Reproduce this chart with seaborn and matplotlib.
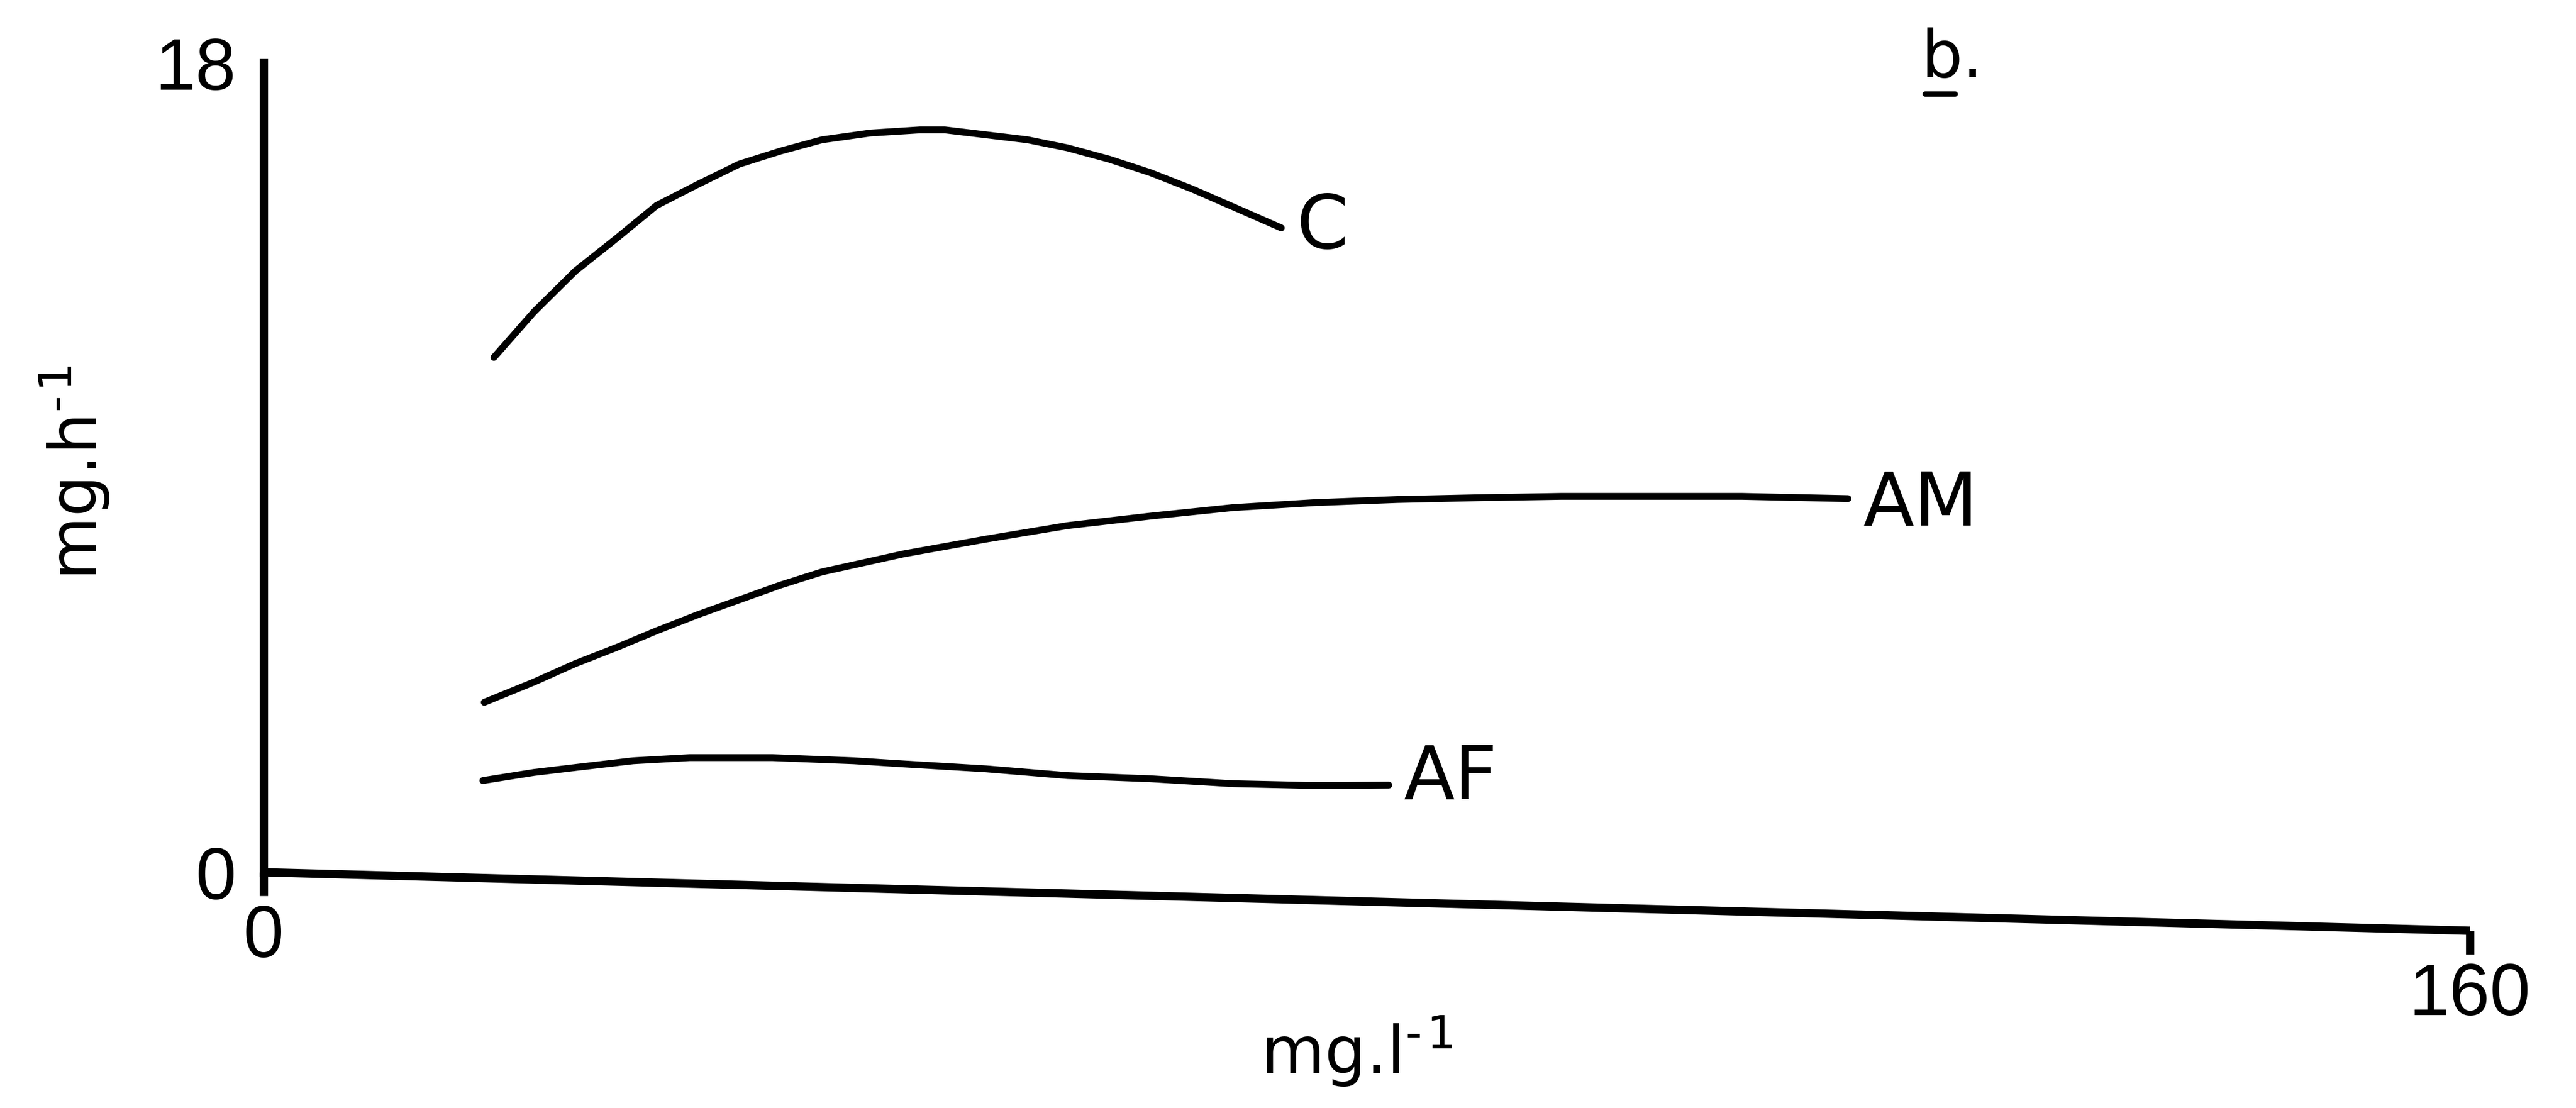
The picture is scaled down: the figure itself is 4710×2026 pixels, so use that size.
import matplotlib
matplotlib.use("Agg")
import matplotlib.pyplot as plt
import matplotlib.transforms as mtransforms
from matplotlib import font_manager
import pandas as pd
import seaborn as sns

# Uptake rate (mg.h-1) against concentration (mg.l-1) for three groups
c_x = [16.7, 19.6, 22.6, 25.6, 28.5, 31.5, 34.5, 37.5, 40.5, 44.0, 47.6,
       49.4, 52.4, 55.4, 58.3, 61.3, 64.3, 67.3, 70.3, 73.8]
c_y = [11.45, 12.46, 13.37, 14.10, 14.83, 15.30, 15.75, 16.04, 16.29, 16.44,
       16.51, 16.51, 16.40, 16.29, 16.11, 15.86, 15.56, 15.20, 14.80, 14.33]
am_x = [16.0, 19.6, 22.6, 25.6, 28.5, 31.5, 34.5, 37.5, 40.5, 46.4, 52.4,
        58.3, 64.3, 70.3, 76.2, 82.2, 88.1, 94.1, 100.0, 107.2, 114.9]
am_y = [3.78, 4.23, 4.64, 5.00, 5.37, 5.73, 6.06, 6.39, 6.68, 7.08, 7.41,
        7.71, 7.92, 8.11, 8.22, 8.29, 8.33, 8.36, 8.36, 8.36, 8.31]
af_x = [15.9, 19.6, 22.6, 26.8, 30.9, 36.9, 42.8, 46.4, 52.4, 58.3, 64.3,
        70.3, 76.2, 81.6]
af_y = [2.04, 2.22, 2.33, 2.48, 2.55, 2.55, 2.48, 2.41, 2.30, 2.15, 2.08,
        1.97, 1.93, 1.94]
series_names = ["C", "AM", "AF"]

x_ticks = [0, 160]
y_ticks = [0, 18]
x_axis_end_drop = -1.3          # baseline slopes down towards the right end
x_label = "mg.l$^{\\mathregular{\u2010\u200a1}}$"
y_label = "mg.h$^{\\mathregular{\u2010\u200a1}}$"
panel_label = "b."

sns.set_theme(style="white")
plt.rcParams["font.family"] = ["DejaVu Sans"]
plt.rcParams["mathtext.default"] = "regular"

installed = {f.name for f in font_manager.fontManager.ttflist}
digit_font = "DejaVu Sans"
for cand in ["Liberation Sans Narrow", "Liberation Sans"]:
    if cand in installed:
        digit_font = cand
        break
digit_size = 105 if digit_font == "Liberation Sans Narrow" else 96

frames = []
for name, xs, ys in zip(series_names, [c_x, am_x, af_x], [c_y, am_y, af_y]):
    frames.append(pd.DataFrame({"conc": xs, "rate": ys, "group": name}))
df = pd.concat(frames, ignore_index=True)

W, H = 4710, 2026
fig = plt.figure(figsize=(W / 100, H / 100), dpi=100)
x0, x1 = 482, 4516
y0, y1 = 1595, 115
ax = fig.add_axes([x0 / W, (H - y0) / H, (x1 - x0) / W, (y0 - y1) / H])

sns.lineplot(data=df, x="conc", y="rate", hue="group", units="group",
             estimator=None, sort=False, palette=["black"] * 3,
             linewidth=9, legend=False, ax=ax)
for line in ax.get_lines():
    line.set_solid_capstyle("round")
    line.set_solid_joinstyle("round")

ax.set_xlim(x_ticks[0], x_ticks[-1])
ax.set_ylim(y_ticks[0], y_ticks[-1])
ax.set_xlabel("")
ax.set_ylabel("")

for side in ["top", "right", "bottom"]:
    ax.spines[side].set_visible(False)
ax.spines["left"].set_color("black")
ax.spines["left"].set_linewidth(11)

ax.set_xticks([])
ax.set_yticks(y_ticks)
ax.set_yticklabels([str(v) for v in y_ticks], fontfamily=digit_font)
ax.tick_params(axis="y", direction="out", length=27, width=12, pad=9,
               labelsize=digit_size, colors="black")


def baseline(x):
    return x_axis_end_drop * x / x_ticks[-1]


# sloping concentration axis with its end ticks
ax.plot([x_ticks[0], x_ticks[-1]], [baseline(x_ticks[0]), baseline(x_ticks[-1])],
        color="black", lw=11, solid_capstyle="butt", clip_on=False)
for xt in x_ticks:
    ax.plot([xt, xt], [baseline(xt), baseline(xt) - 0.52], color="black",
            lw=11, solid_capstyle="butt", clip_on=False)
    off = mtransforms.ScaledTranslation(0, -1.2, fig.dpi_scale_trans)
    ax.text(xt, baseline(xt), str(xt), transform=ax.transData + off,
            ha="center", va="center", fontsize=digit_size, fontfamily=digit_font,
            color="black", clip_on=False)

# curve labels at the right-hand end of each line
label_dy = {"C": 0, "AM": -8, "AF": 9}
for name, xs, ys in zip(series_names, [c_x, am_x, af_x], [c_y, am_y, af_y]):
    ax.annotate(name, xy=(xs[-1], ys[-1]), xytext=(20, label_dy[name]),
                textcoords="offset points", ha="left", va="center",
                fontsize=98, color="black", annotation_clip=False)

fig.text(2305 / W, (H - 1963) / H, x_label, ha="left", va="baseline",
         fontsize=86, color="black")
fig.text(177 / W, (H - 1061) / H, y_label, ha="left", va="baseline",
         rotation=90, rotation_mode="anchor", fontsize=86, color="black")

# panel letter, underlined
fig.text(3512 / W, (H - 141) / H, panel_label, ha="left", va="baseline",
         fontsize=86, color="black")
fig.lines.append(plt.Line2D([3520 / W, 3575 / W], [(H - 172) / H, (H - 172) / H],
                            transform=fig.transFigure, color="black", lw=7,
                            solid_capstyle="round"))

fig.savefig("out.png", dpi=100, facecolor="white")
